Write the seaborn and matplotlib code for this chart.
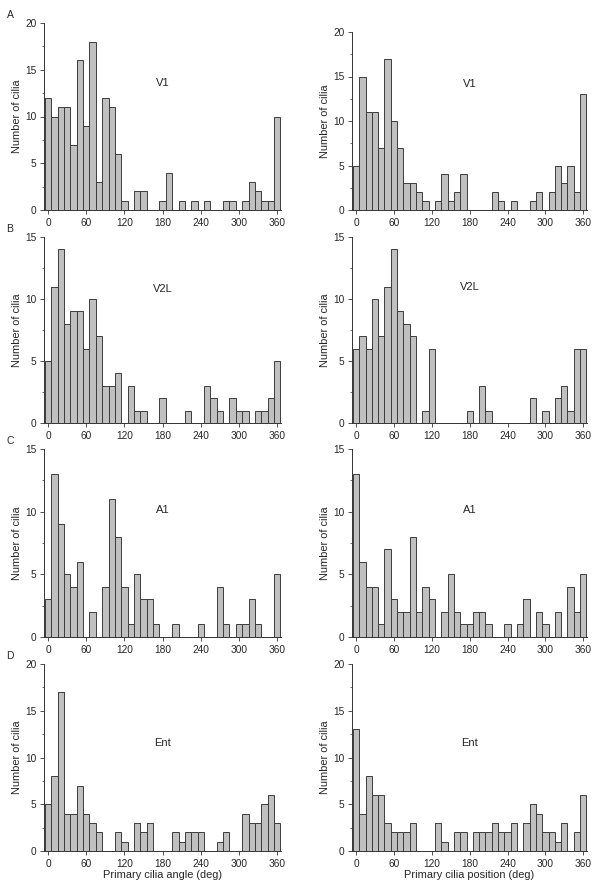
import matplotlib
matplotlib.use("Agg")
import matplotlib.pyplot as plt
import seaborn as sns
import numpy as np
from matplotlib.ticker import MultipleLocator

# bin centres (deg), one bar every 10 deg
degrees = list(range(0, 361, 10))

# counts, left column = angle, right column = position
v1_angle = [12, 10, 11, 11, 7, 16, 9, 18, 3, 12, 11, 6, 1, 0, 2, 2, 0, 0, 1, 4, 0, 1, 0, 1, 0, 1, 0, 0, 1, 1, 0, 1, 3, 2, 1, 1, 10]
v1_pos = [5, 15, 11, 11, 7, 17, 10, 7, 3, 3, 2, 1, 0, 1, 4, 1, 2, 4, 0, 0, 0, 0, 2, 1, 0, 1, 0, 0, 1, 2, 0, 2, 5, 3, 5, 2, 13]
v2l_angle = [5, 11, 14, 8, 9, 9, 6, 10, 7, 3, 3, 4, 0, 3, 1, 1, 0, 0, 2, 0, 0, 0, 1, 0, 0, 3, 2, 1, 0, 2, 1, 1, 0, 1, 1, 2, 5]
v2l_pos = [6, 7, 6, 10, 7, 11, 14, 9, 8, 7, 0, 1, 6, 0, 0, 0, 0, 0, 1, 0, 3, 1, 0, 0, 0, 0, 0, 0, 2, 0, 1, 0, 2, 3, 1, 6, 6]
a1_angle = [3, 13, 9, 5, 4, 6, 0, 2, 0, 4, 11, 8, 4, 1, 5, 3, 3, 1, 0, 0, 1, 0, 0, 0, 1, 0, 0, 4, 1, 0, 1, 1, 3, 1, 0, 0, 5]
a1_pos = [13, 6, 4, 4, 1, 7, 3, 2, 2, 8, 2, 4, 3, 0, 2, 5, 2, 1, 1, 2, 2, 1, 0, 0, 1, 0, 1, 3, 0, 2, 1, 0, 2, 0, 4, 2, 5]
ent_angle = [5, 8, 17, 4, 4, 7, 4, 3, 2, 0, 0, 2, 1, 0, 3, 2, 3, 0, 0, 0, 2, 1, 2, 2, 2, 0, 0, 1, 2, 0, 0, 4, 3, 3, 5, 6, 3]
ent_pos = [13, 4, 8, 6, 6, 3, 2, 2, 2, 3, 0, 0, 0, 3, 1, 0, 2, 2, 0, 2, 2, 2, 3, 2, 2, 3, 0, 3, 5, 4, 2, 2, 1, 3, 0, 2, 6]

regions = ["V1", "V2L", "A1", "Ent"]
panel_letters = ["A", "B", "C", "D"]
ymax = [20, 15, 15, 20]
left_counts = [v1_angle, v2l_angle, a1_angle, ent_angle]
right_counts = [v1_pos, v2l_pos, a1_pos, ent_pos]

sns.set_style("ticks")
plt.rcParams["font.family"] = ["Liberation Sans", "DejaVu Sans"]

fig = plt.figure(figsize=(6.04, 8.9), dpi=100)

W, H = 604.0, 890.0
# (top px, bottom px) of each row for left and right column
rows_left = [(23, 210), (237, 423), (449, 637), (664, 851)]
rows_right = [(32, 210), (237, 423), (449, 637), (664, 851)]
label_y = [0.68, 0.72, 0.675, 0.58]
label_y_r = [0.71, 0.73, 0.675, 0.58]

bar_face = "#c0c0c0"
bar_edge = "#3c3c3c"
axis_col = "#333333"


def draw_panel(ax, counts, top, region, ly, xlabel=None):
    sns.histplot(x=degrees, weights=counts, binwidth=10, binrange=(-5, 365),
                 color=bar_face, edgecolor=bar_edge, linewidth=0.7, alpha=1,
                 ax=ax)
    ax.set_xlim(-6.5, 366)
    ax.set_ylim(0, top)
    ax.set_xticks(range(0, 361, 60))
    ax.yaxis.set_major_locator(MultipleLocator(5))
    ax.yaxis.set_minor_locator(MultipleLocator(2.5))
    ax.tick_params(axis="both", which="major", labelsize=7.3, length=3,
                   width=0.6, color=axis_col, pad=2.5)
    ax.tick_params(axis="y", which="minor", length=1.6, width=0.5, color=axis_col)
    for s in ["top", "right"]:
        ax.spines[s].set_visible(False)
    for s in ["left", "bottom"]:
        ax.spines[s].set_linewidth(0.7)
        ax.spines[s].set_color(axis_col)
    ax.set_ylabel("Number of cilia", fontsize=7.9, labelpad=2)
    if xlabel:
        ax.set_xlabel(xlabel, fontsize=7.9, labelpad=1)
    else:
        ax.set_xlabel("")
    ax.text(0.5, ly, region, transform=ax.transAxes, ha="center", va="center",
            fontsize=8)


for i in range(4):
    t, b = rows_left[i]
    axl = fig.add_axes([44 / W, 1 - b / H, (281 - 44) / W, (b - t) / H])
    draw_panel(axl, left_counts[i], ymax[i], regions[i], label_y[i],
               "Primary cilia angle (deg)" if i == 3 else None)
    t, b = rows_right[i]
    axr = fig.add_axes([352 / W, 1 - b / H, (587 - 352) / W, (b - t) / H])
    draw_panel(axr, right_counts[i], ymax[i], regions[i], label_y_r[i],
               "Primary cilia position (deg)" if i == 3 else None)
    fig.text(10 / W, 1 - (rows_left[i][0] - 8) / H, panel_letters[i],
             fontsize=7.5, ha="center", va="center")

fig.savefig("out.png", dpi=100)
